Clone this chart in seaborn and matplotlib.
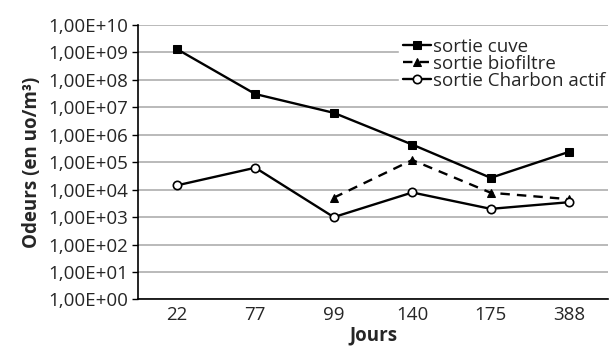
import numpy as np
import pandas as pd
import matplotlib
matplotlib.use("Agg")
import matplotlib.pyplot as plt
import matplotlib.ticker as mticker
import seaborn as sns

# Data
jours = ["22", "77", "99", "140", "175", "388"]
sortie_cuve = [1.33e9, 3.05e7, 6.3e6, 4.4e5, 2.7e4, 2.4e5]
sortie_biofiltre = [np.nan, np.nan, 5.1e3, 1.2e5, 7.7e3, 4.5e3]
sortie_charbon = [1.43e4, 6.3e4, 1.0e3, 7.9e3, 2.0e3, 3.5e3]

pos = np.arange(len(jours))
df = pd.DataFrame({"pos": pos, "cuve": sortie_cuve,
                   "bio": sortie_biofiltre, "charbon": sortie_charbon})

sns.set_style("white")
plt.rcParams["font.family"] = ["Open Sans", "DejaVu Sans"]
fs = 13.5

fig, ax = plt.subplots(figsize=(6.14, 3.47), dpi=100)
fig.subplots_adjust(left=0.224, right=0.991, top=0.928, bottom=0.137)

sns.lineplot(data=df, x="pos", y="cuve", ax=ax, color="black", lw=1.7,
             marker="s", markersize=6, mfc="black", mec="black",
             label="sortie cuve")
sns.lineplot(data=df.dropna(), x="pos", y="bio", ax=ax, color="black", lw=1.7,
             marker="^", markersize=6, mfc="black", mec="black",
             linestyle=(0, (4, 3)), label="sortie biofiltre")
sns.lineplot(data=df, x="pos", y="charbon", ax=ax, color="black", lw=1.7,
             marker="o", markersize=6, mfc="white", mec="black", mew=1.2,
             label="sortie Charbon actif")

ax.set_yscale("log")
ax.set_ylim(1, 1e10)
ax.yaxis.set_major_locator(mticker.LogLocator(base=10, numticks=20))
ax.yaxis.set_minor_locator(mticker.NullLocator())
ax.yaxis.set_major_formatter(mticker.FuncFormatter(
    lambda v, p: "1,00E+%02d" % int(round(np.log10(v)))))

ax.set_xlim(-0.5, len(jours) - 0.5)
ax.set_xticks(np.arange(-0.5, len(jours)), minor=False)
ax.set_xticklabels([])
ax.set_xticks(pos, minor=True)
ax.set_xticklabels(jours, minor=True)
ax.tick_params(axis="x", which="minor", length=0, labelsize=fs, pad=5)
ax.tick_params(axis="x", which="major", direction="inout", length=6,
               width=1, color="black")
ax.tick_params(axis="y", direction="out", length=4, width=1, color="black",
               labelsize=fs, pad=3, left=True)

ax.yaxis.grid(True, color="#b4b4b4", lw=1.3)
ax.set_axisbelow(True)
for s in ["top", "right"]:
    ax.spines[s].set_visible(False)
for s in ["left", "bottom"]:
    ax.spines[s].set_color("black")
    ax.spines[s].set_linewidth(1.2)

ax.set_xlabel("Jours", fontsize=fs, fontweight="bold", labelpad=1)
ax.set_ylabel("Odeurs (en uo/m³)", fontsize=fs, fontweight="bold",
              labelpad=4)

leg = ax.legend(loc="upper left", bbox_to_anchor=(0.555, 0.968),
                frameon=True, fontsize=fs, handlelength=1.5,
                handletextpad=0.1, labelspacing=-0.05, borderpad=0.2,
                borderaxespad=0, fancybox=False)
leg.get_frame().set_facecolor("white")
leg.get_frame().set_edgecolor("white")
leg.get_frame().set_alpha(1)

fig.savefig("out.png", dpi=100)
